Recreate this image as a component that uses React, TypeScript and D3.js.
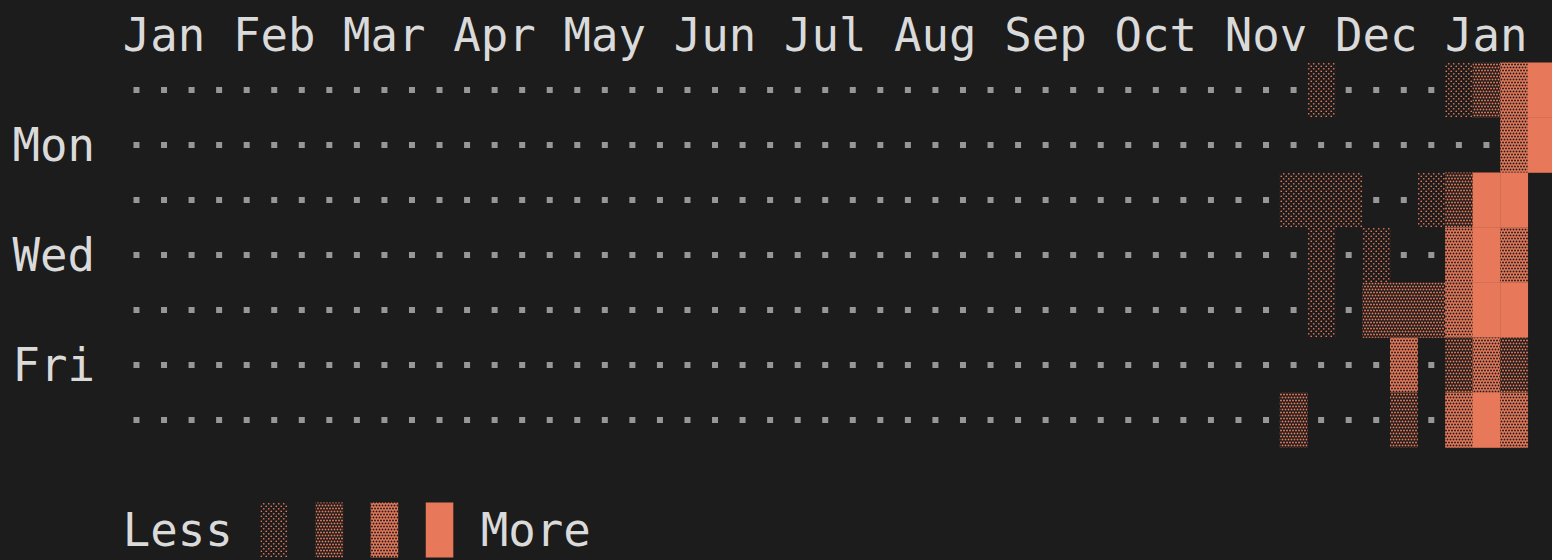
import { useEffect, useRef } from 'react';
import * as d3 from 'd3';

// month header, one label per 4 character cells
const MONTH_LABELS = ['Jan', 'Feb', 'Mar', 'Apr', 'May', 'Jun', 'Jul', 'Aug', 'Sep', 'Oct', 'Nov', 'Dec', 'Jan'];
const DAY_LABELS = ['', 'Mon', '', 'Wed', '', 'Fri', ''];

// one string per weekday, one char per week (52 weeks)
// '.' = no activity, '1'..'4' = intensity level, ' ' = day not reached yet
const EARLY_WEEKS = '..........' + '..........' + '..........' + '..........' + '.';
const DAY_ROWS = [
  EARLY_WEEKS + '..1....1234',
  EARLY_WEEKS + '.........34',
  EARLY_WEEKS + '.111..1244 ',
  EARLY_WEEKS + '..1.1..343 ',
  EARLY_WEEKS + '..1.222344 ',
  EARLY_WEEKS + '.....3.232 ',
  EARLY_WEEKS + '.2...2.343 ',
];
const LEGEND_LEVELS = [1, 2, 3, 4];

const W = 1552;
const H = 560;
const BG = '#1c1c1c';
const TEXT = '#dadada';
const DOT = '#979797';
const ORANGE = '#e7795a';

export default function App() {
  const svgRef = useRef<SVGSVGElement>(null);

  useEffect(() => {
    if (!svgRef.current) return;
    document.body.style.margin = '0';
    document.body.style.background = BG;

    const svg = d3.select(svgRef.current);
    svg.selectAll('*').remove();

    const charW = 27.55;
    const lineH = 55;
    const x0 = 12.5;
    // terminal grid: character columns and text lines
    const col = d3.scaleLinear().domain([0, 1]).range([x0, x0 + charW]);
    const line = d3.scaleLinear().domain([0, 1]).range([35, 35 + lineH]); // line centre
    const nWeeks = DAY_ROWS[0].length;

    const xWeek = d3
      .scaleBand<number>()
      .domain(d3.range(nWeeks))
      .range([col(4), col(4 + nWeeks)])
      .padding(0);
    const yDay = d3
      .scaleBand<number>()
      .domain(d3.range(7))
      .range([line(1) - lineH / 2, line(8) - lineH / 2])
      .padding(0);

    svg.append('rect').attr('width', W).attr('height', H).attr('fill', BG);

    const defs = svg.append('defs');
    // light shade: sparse checker of orange dots
    const p1 = defs
      .append('pattern')
      .attr('id', 'lvl-1')
      .attr('patternUnits', 'userSpaceOnUse')
      .attr('width', 5)
      .attr('height', 5);
    p1.append('rect').attr('width', 5).attr('height', 5).attr('fill', BG);
    p1.append('circle').attr('cx', 1.25).attr('cy', 1.25).attr('r', 0.85).attr('fill', ORANGE);
    p1.append('circle').attr('cx', 3.75).attr('cy', 3.75).attr('r', 0.85).attr('fill', ORANGE);

    // medium shade: staggered orange dots
    const p2 = defs
      .append('pattern')
      .attr('id', 'lvl-2')
      .attr('patternUnits', 'userSpaceOnUse')
      .attr('width', 6)
      .attr('height', 6);
    p2.append('rect').attr('width', 6).attr('height', 6).attr('fill', BG);
    [
      [1.5, 1.5],
      [4.5, 1.5],
      [0, 4.5],
      [3, 4.5],
      [6, 4.5],
    ].forEach(([cx, cy]) =>
      p2.append('circle').attr('cx', cx).attr('cy', cy).attr('r', 0.95).attr('fill', ORANGE)
    );

    // dark shade: orange with small dark holes
    const p3 = defs
      .append('pattern')
      .attr('id', 'lvl-3')
      .attr('patternUnits', 'userSpaceOnUse')
      .attr('width', 6)
      .attr('height', 6);
    p3.append('rect').attr('width', 6).attr('height', 6).attr('fill', ORANGE);
    [
      [1.5, 1.5],
      [4.5, 1.5],
      [0, 4.5],
      [3, 4.5],
      [6, 4.5],
    ].forEach(([cx, cy]) =>
      p3.append('circle').attr('cx', cx).attr('cy', cy).attr('r', 0.95).attr('fill', BG)
    );

    const fillFor = (lvl: number) => (lvl >= 4 ? ORANGE : `url(#lvl-${lvl})`);

    const font = "'DejaVu Sans Mono', 'Liberation Mono', monospace";
    const fontSize = 45.7;

    // month header
    svg
      .append('g')
      .selectAll('text')
      .data(MONTH_LABELS)
      .join('text')
      .attr('x', (_, i) => col(4 + i * 4))
      .attr('y', line(0) + 16)
      .attr('font-family', font)
      .attr('font-size', fontSize)
      .attr('fill', TEXT)
      .text((d) => d);

    // weekday labels
    svg
      .append('g')
      .selectAll('text')
      .data(DAY_LABELS)
      .join('text')
      .attr('x', col(0))
      .attr('y', (_, i) => line(i + 1) + 16)
      .attr('font-family', font)
      .attr('font-size', fontSize)
      .attr('fill', TEXT)
      .text((d) => d);

    const cells = DAY_ROWS.flatMap((row, day) =>
      row.split('').map((ch, week) => ({ day, week, ch }))
    );

    const g = svg.append('g');
    // empty days: a middle dot
    g.selectAll('rect.dot')
      .data(cells.filter((c) => c.ch === '.'))
      .join('rect')
      .attr('class', 'dot')
      .attr('x', (d) => (xWeek(d.week) as number) + xWeek.bandwidth() / 2 - 3)
      .attr('y', (d) => (yDay(d.day) as number) + yDay.bandwidth() / 2 - 3)
      .attr('width', 6)
      .attr('height', 6)
      .attr('fill', DOT);

    g.selectAll('rect.cell')
      .data(cells.filter((c) => c.ch >= '1' && c.ch <= '4'))
      .join('rect')
      .attr('class', 'cell')
      .attr('x', (d) => xWeek(d.week) as number)
      .attr('y', (d) => yDay(d.day) as number)
      .attr('width', xWeek.bandwidth() + 0.3)
      .attr('height', yDay.bandwidth() + 0.3)
      .attr('fill', (d) => fillFor(+d.ch));

    // legend
    const legendY = line(9);
    const legend = svg.append('g');
    legend
      .append('text')
      .attr('x', col(4))
      .attr('y', legendY + 16)
      .attr('font-family', font)
      .attr('font-size', fontSize)
      .attr('fill', TEXT)
      .text('Less');
    legend
      .selectAll('rect')
      .data(LEGEND_LEVELS)
      .join('rect')
      .attr('x', (_, i) => col(9 + i * 2))
      .attr('y', legendY - lineH / 2)
      .attr('width', charW)
      .attr('height', lineH)
      .attr('fill', (d) => fillFor(d));
    legend
      .append('text')
      .attr('x', col(17))
      .attr('y', legendY + 16)
      .attr('font-family', font)
      .attr('font-size', fontSize)
      .attr('fill', TEXT)
      .text('More');
  }, []);

  return (
    <svg
      ref={svgRef}
      width={W}
      height={H}
      style={{ position: 'absolute', left: 0, top: 0, display: 'block' }}
    />
  );
}
